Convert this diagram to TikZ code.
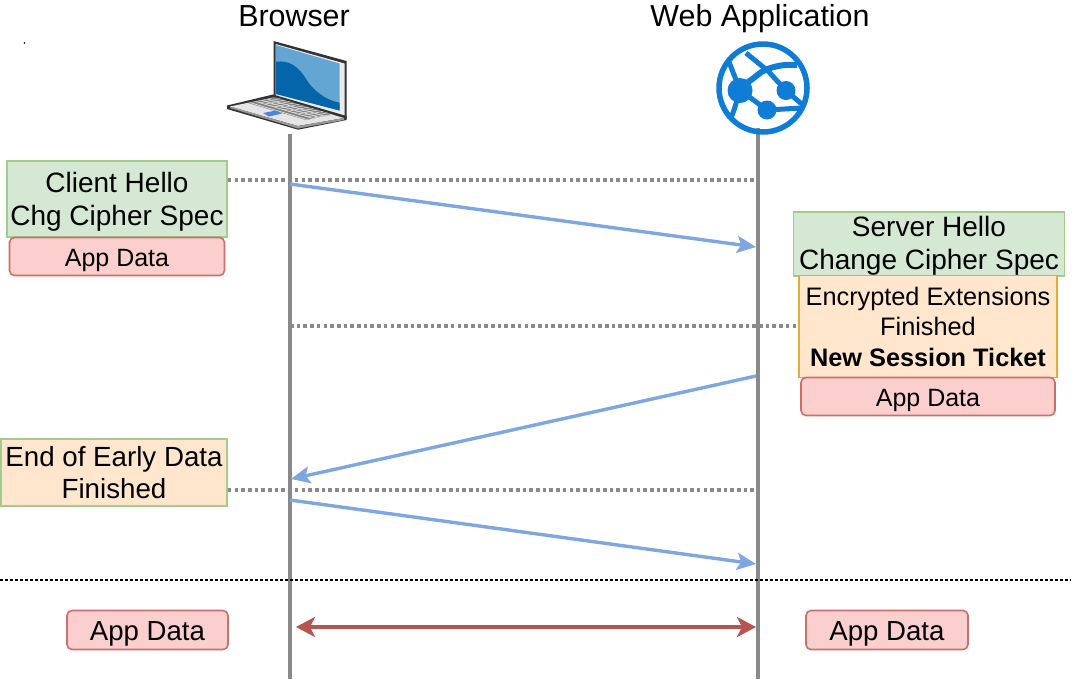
\documentclass[tikz,border=0pt]{standalone}
\usepackage{fontspec}
\setmainfont{Liberation Sans}
\usetikzlibrary{arrows.meta}
\definecolor{gbox}{HTML}{D5E8D4}\definecolor{gline}{HTML}{A3CC8C}
\definecolor{rbox}{HTML}{FBCFCE}\definecolor{rline}{HTML}{CC6F6B}
\definecolor{obox}{HTML}{FFE6CC}\definecolor{oline}{HTML}{E3AC35}
\definecolor{arrowblue}{HTML}{7EA6E0}\definecolor{arrowred}{HTML}{B85450}
\definecolor{lifegrey}{HTML}{8A8A8A}\definecolor{azure}{HTML}{0F7DD6}
\definecolor{scrlight}{HTML}{63A5D3}\definecolor{scrdark}{HTML}{0465AA}
\newcommand\up[1]{\rule{0pt}{#1pt}}
\tikzset{
 fbase/.style={align=center,inner sep=0pt,line width=1.6pt,text=black,font=\fontsize{28}{33}\selectfont},
 greenbox/.style={fbase,draw=gline,fill=gbox,minimum width=#1},
 redbox/.style={fbase,draw=rline,fill=rbox,rounded corners=5,minimum width=#1},
 orangebox/.style={fbase,draw=oline,fill=obox,minimum width=#1},
 lifeline/.style={draw=lifegrey,line width=4pt},
 dotline/.style={draw=lifegrey,line width=3.6pt,dash pattern=on 3.6pt off 3.1pt},
 msg/.style={draw=arrowblue,line width=3.4pt,-{Stealth[length=19pt,width=17pt,inset=4pt]}},
 title/.style={font=\fontsize{30.4}{36}\selectfont,inner sep=0pt,anchor=base},
}
\begin{document}
\begin{tikzpicture}[x=1pt,y=-1pt]
\useasboundingbox (0,0) rectangle (1075,697);
\node[title] (tb) at (294,26) {Browser};
\node[title] (tw) at (760,26) {Web Application};
% lifelines
\coordinate (bt) at (290,134); \coordinate (bb) at (290,679);
\coordinate (wt) at (758,128); \coordinate (wb) at (758,679);
\draw[lifeline] (bt) -- (bb);
\draw[lifeline] (wt) -- (wb);
% boxes
\node[greenbox=220pt,minimum height=76pt] (ch) at (117,199) {\up{26}Client Hello\\Chg Cipher Spec};
\node[redbox=215pt,minimum height=38pt,font=\fontsize{25}{30}\selectfont] (ad1) at (117,256.5) {\up{24.5}App Data};
\node[greenbox=271pt,minimum height=64pt] (sh) at (929,244) {\up{24}Server Hello\\Change Cipher Spec};
\node[orangebox=258pt,minimum height=102pt,font=\fontsize{25.3}{30.5}\selectfont] (ee) at (928,326.5) {Encrypted Extensions\\Finished\\\textbf{New Session Ticket}};
\node[redbox=254pt,minimum height=38pt,font=\fontsize{25}{30}\selectfont] (ad2) at (928,396.5) {\up{24.5}App Data};
\node[greenbox=226pt,minimum height=67pt,fill=obox,font=\fontsize{27.7}{32}\selectfont] (eo) at (114,472.5) {End of Early Data\\Finished};
\node[redbox=161pt,minimum height=39pt,font=\fontsize{27.6}{33}\selectfont] (ad3) at (147.5,630) {\up{26}App Data};
\node[redbox=162pt,minimum height=39pt,font=\fontsize{27.6}{33}\selectfont] (ad4) at (887,630) {\up{26}App Data};
% dotted
\coordinate (d1) at (758,180);
\draw[dotline] (ch.east |- d1) -- (d1);
\coordinate (d2) at (290,326);
\draw[dotline] (d2) -- (ee.west |- d2);
\coordinate (d3) at (758,490);
\draw[dotline] (eo.east |- d3) -- (d3);
% arrows
\coordinate (a1s) at (290,184); \coordinate (a1e) at (756,247);
\draw[msg] (a1s) -- (a1e);
\coordinate (a2s) at (756,376); \coordinate (a2e) at (291,479);
\draw[msg] (a2s) -- (a2e);
\coordinate (a3s) at (290,500); \coordinate (a3e) at (756,564);
\draw[msg] (a3s) -- (a3e);
\coordinate (a4s) at (296,627); \coordinate (a4e) at (756,627);
\draw[draw=arrowred,line width=3.6pt,{Stealth[length=19pt,width=20pt,inset=5pt]}-{Stealth[length=19pt,width=20pt,inset=5pt]}] (a4s) -- (a4e);
% separator
\coordinate (sl) at (0,580); \coordinate (sr) at (1071,580);
\draw[black,line width=2.2pt,dash pattern=on 2.6pt off 2.4pt] (sl) -- (sr);
\fill[black] (24.5,43) circle (0.9);
% laptop: lid
\fill[black!80] (273.5,41) -- (346.5,61) -- (346.5,119) -- (273.5,97) -- cycle;
\fill[black!8] (275.5,44) -- (344.5,63.5) -- (344.5,116) -- (275.5,96) -- cycle;
\fill[scrlight] (276,45) -- (339.5,63.5) -- (339.5,110.5) -- (276,94) -- cycle;
\fill[scrdark] (276,61.7) .. controls (290,60) and (299,67) .. (306.7,80) .. controls (313,90) and (325,100) .. (339.5,102.7) -- (339.5,110.5) -- (276,94) -- cycle;
% laptop: base
\fill[black!80] (273,94.5) -- (346.5,116) -- (346.5,120) -- (298,129.7) -- (227,109) -- (227,105.5) -- cycle;
\fill[black!10] (230,106.5) -- (273.5,97.5) -- (344,118) -- (298,126) -- cycle;
\fill[black!40] (298,126) -- (344,118) -- (344,120) -- (298,128.5) -- (230,108) -- (230,106.5) -- cycle;
\begin{scope}
\clip (248,103) -- (276,97.5) -- (333,114.5) -- (306,120) -- cycle;
\fill[black!50] (240,90) rectangle (340,125);
\foreach \k in {0,1,2,3,4}
  \draw[white!85!black,line width=.8pt] ({245+\k*5.6},{104-\k*1.2}) -- ++(64,19);
\foreach \k in {0,...,14}
  \draw[white!85!black,line width=.7pt] ({250+\k*4.8},{100+\k*1.4}) -- ++(32,-6.4);
\end{scope}
\fill[scrlight!80!blue] (263,113) -- (276,110.5) -- (282,113.5) -- (269,116.5) -- cycle;
% globe
\draw[azure,line width=5.5pt] (763,88) circle (44);
\fill[azure] (740,90.5) circle (12.5);
\fill[azure] (786,90.5) circle (9.5);
\fill[azure] (767,110) circle (9.5);
\begin{scope}[azure,line width=5pt]
\draw (729,62) .. controls (733,72) and (736,80) .. (740,90);
\draw (740,90) .. controls (737,100) and (735,108) .. (731,118);
\draw[line width=6pt] (745,84) .. controls (755,78) and (760,72) .. (765,70) .. controls (775,66) and (785,64) .. (797,65);
\draw (746,53) -- (768,71) -- (786,90.5) -- (804,106);
\draw (740,90) -- (767,110) -- (802,108);
\end{scope}
\end{tikzpicture}
\end{document}
